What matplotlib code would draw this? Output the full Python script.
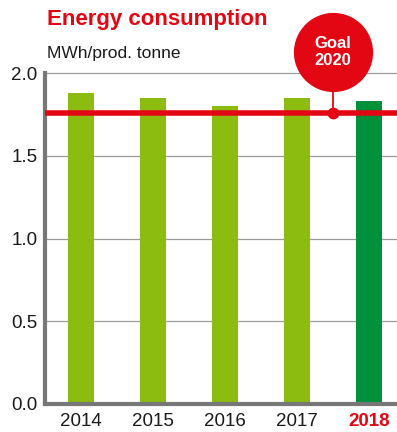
import matplotlib
matplotlib.use("Agg")
import matplotlib.pyplot as plt

plt.rcParams['font.family'] = ['Liberation Sans', 'DejaVu Sans']

years = ["2014", "2015", "2016", "2017", "2018"]
consumption = [1.88, 1.85, 1.80, 1.85, 1.83]
goal_2020 = 1.76
y_ticks = [0.0, 0.5, 1.0, 1.5, 2.0]

RED = "#E30613"
LIGHT_GREEN = "#8CBC10"
DARK_GREEN = "#00913A"
SPINE = "#777777"
GRID = "#9A9A9A"

W, H = 397, 432
fig = plt.figure(figsize=(W / 100, H / 100), dpi=100)
ax = fig.add_axes([44.5 / W, (H - 404) / H, 1 - 44.5 / W, (404 - 73) / H])

x = list(range(len(years)))
colors = [LIGHT_GREEN] * (len(years) - 1) + [DARK_GREEN]
ax.bar(x, consumption, width=0.36, color=colors, zorder=3)

ax.set_xlim(-0.507, 4.39)
ax.set_ylim(0, 2.0)
ax.set_yticks(y_ticks)
ax.set_yticklabels([f"{v:.1f}" for v in y_ticks])
ax.set_xticks(x)
ax.set_xticklabels(years)

for v in y_ticks[1:]:
    ax.axhline(v, color=GRID, lw=0.9, zorder=1, clip_on=False)

for side in ("top", "right"):
    ax.spines[side].set_visible(False)
for side in ("left", "bottom"):
    ax.spines[side].set_color(SPINE)
    ax.spines[side].set_linewidth(3.0)
    ax.spines[side].set_zorder(4)
ax.spines["left"].set_capstyle("projecting")

ax.tick_params(axis="both", length=0, labelsize=13.5, colors="#1a1a1a")
ax.tick_params(axis="y", pad=5)
ax.tick_params(axis="x", pad=6.5)
last = ax.get_xticklabels()[-1]
last.set_color(RED)
last.set_fontweight("bold")

# goal line with marker and callout bubble
ax.axhline(goal_2020, color=RED, lw=4.0, zorder=5, xmin=0.005)
goal_x = 3.5
bubble_y = 2.127
ax.plot([goal_x, goal_x], [goal_2020, bubble_y], color=RED, lw=1.3,
        zorder=6, clip_on=False)
ax.plot(goal_x, goal_2020, "o", color=RED, ms=7.5, zorder=7, clip_on=False)
ax.plot(goal_x, bubble_y, "o", color=RED, ms=57, mew=0, zorder=8, clip_on=False)
ax.text(goal_x, bubble_y, "Goal\n2020", color="white", fontsize=12,
        fontweight="bold", ha="center", va="center", linespacing=1.1,
        zorder=9, clip_on=False)

fig.text(47 / W, (H - 25) / H, "Energy consumption", color=RED,
         fontsize=16, fontweight="bold", ha="left", va="baseline")
fig.text(47 / W, (H - 58) / H, "MWh/prod. tonne", color="#1a1a1a",
         fontsize=12.5, ha="left", va="baseline")

fig.savefig("out.png", dpi=100)
